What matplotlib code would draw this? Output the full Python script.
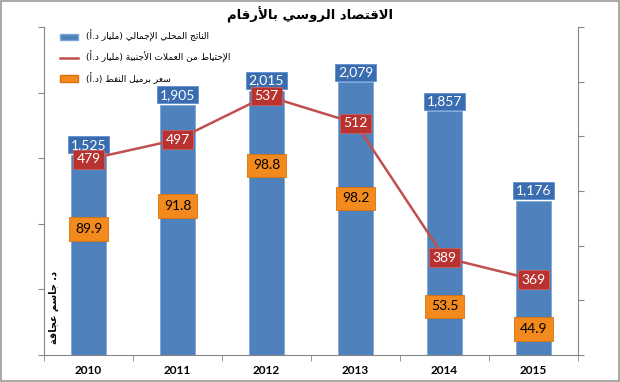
import matplotlib
matplotlib.use("Agg")
import matplotlib.pyplot as plt
from matplotlib.patches import Patch, Rectangle
from matplotlib.lines import Line2D
import numpy as np

# ---------------- data ----------------
years = ["2010", "2011", "2012", "2013", "2014", "2015"]
gdp = [1525, 1905, 2015, 2079, 1857, 1176]           # billion USD
reserves = [479, 497, 537, 512, 389, 369]            # billion USD
oil = [89.9, 91.8, 98.8, 98.2, 53.5, 44.9]           # USD / barrel
oil_label_nudge = [-13, 0, 16, -6.5, 0, 0]           # label offsets (points), layout only

title = "الاقتصاد الروسي بالأرقام"
legend_labels = ["الناتج المحلي الإجمالي (مليار د.أ)",
                 "الإحتياط من العملات الأجنبية (مليار د.أ)",
                 "سعر برميل النفط (د.أ)"]
author = "د. جاسم عجاقة"

# ---------------- minimal Arabic shaping ----------------
TABLE = {0x621: (0xFE80, 1), 0x622: (0xFE81, 2), 0x623: (0xFE83, 2), 0x624: (0xFE85, 2),
         0x625: (0xFE87, 2), 0x626: (0xFE89, 4), 0x627: (0xFE8D, 2), 0x628: (0xFE8F, 4),
         0x629: (0xFE93, 2), 0x62A: (0xFE95, 4), 0x62B: (0xFE99, 4), 0x62C: (0xFE9D, 4),
         0x62D: (0xFEA1, 4), 0x62E: (0xFEA5, 4), 0x62F: (0xFEA9, 2), 0x630: (0xFEAB, 2),
         0x631: (0xFEAD, 2), 0x632: (0xFEAF, 2), 0x633: (0xFEB1, 4), 0x634: (0xFEB5, 4),
         0x635: (0xFEB9, 4), 0x636: (0xFEBD, 4), 0x637: (0xFEC1, 4), 0x638: (0xFEC5, 4),
         0x639: (0xFEC9, 4), 0x63A: (0xFECD, 4), 0x641: (0xFED1, 4), 0x642: (0xFED5, 4),
         0x643: (0xFED9, 4), 0x644: (0xFEDD, 4), 0x645: (0xFEE1, 4), 0x646: (0xFEE5, 4),
         0x647: (0xFEE9, 4), 0x648: (0xFEED, 2), 0x649: (0xFEEF, 2), 0x64A: (0xFEF1, 4)}
LAMALEF = {0x622: 0xFEF5, 0x623: 0xFEF7, 0x625: 0xFEF9, 0x627: 0xFEFB}


def shape(s):
    toks = []
    i = 0
    while i < len(s):
        c = s[i]
        if ord(c) == 0x644 and i + 1 < len(s) and ord(s[i + 1]) in LAMALEF:
            toks.append(("LA", LAMALEF[ord(s[i + 1])]))
            i += 2
        else:
            toks.append(("C", c))
            i += 1

    def dual(t):
        return t is not None and t[0] == "C" and ord(t[1]) in TABLE and TABLE[ord(t[1])][1] == 4

    def joins_prev(t):
        return t is not None and (t[0] == "LA" or (ord(t[1]) in TABLE and ord(t[1]) != 0x621))

    out = []
    for k, t in enumerate(toks):
        prev = toks[k - 1] if k > 0 else None
        nxt = toks[k + 1] if k + 1 < len(toks) else None
        jp = dual(prev) and joins_prev(t)
        if t[0] == "LA":
            out.append(chr(t[1] + (1 if jp else 0)))
            continue
        o = ord(t[1])
        if o not in TABLE:
            out.append(t[1])
            continue
        base, n = TABLE[o]
        jn = n == 4 and joins_prev(nxt)
        if n == 1:
            out.append(chr(base))
        elif jp and jn:
            out.append(chr(base + 3))
        elif jp:
            out.append(chr(base + 1))
        elif jn:
            out.append(chr(base + 2))
        else:
            out.append(chr(base))
    r = "".join(out)[::-1]
    return r.translate(str.maketrans("()", ")("))


# ---------------- figure ----------------
AR = ["DejaVu Sans"]
NUM = ["Lato", "DejaVu Sans"]
LBL = 10

fig = plt.figure(figsize=(6.2, 3.82), dpi=100)
fig.patches.append(Rectangle((0.001, 0.002), 0.997, 0.995, transform=fig.transFigure,
                             fill=False, edgecolor="#9a9a9a", linewidth=1.2))
ax = fig.add_axes([44 / 620, 27 / 382, (578 - 44) / 620, (355 - 27) / 382])
ax2 = ax.twinx()
ax3 = ax.twinx()

x = np.arange(len(years))
bar_c = "#4F81BD"
bars = ax.bar(x, gdp, width=0.4, color=bar_c, edgecolor="#7EA6D8", linewidth=0.6, zorder=2)
ax.set_xlim(-0.5, len(years) - 0.5)
ax.set_ylim(0, 2500)
ax.set_yticks(np.arange(0, 2501, 500))
ax.set_yticklabels([])
ax.set_xticks(x)
ax.set_xticklabels(years, fontweight="bold", fontsize=8.5, family=NUM)
ax.set_xticks(np.arange(-0.5, len(years)), minor=True)
ax.tick_params(axis="x", which="major", length=0, pad=7)
ax.tick_params(axis="x", which="minor", length=4, color="#868686", direction="out")
ax.tick_params(axis="y", length=4, color="#868686", direction="out")
for sp in ["top", "right"]:
    ax.spines[sp].set_visible(False)
for sp in ["left", "bottom"]:
    ax.spines[sp].set_color("#868686")

for xi, v in zip(x, gdp):
    ax.annotate(f"{v:,}", (xi, v), xytext=(0, 3), textcoords="offset points",
                ha="center", va="bottom", color="white", fontsize=LBL, family=NUM, zorder=5,
                bbox=dict(boxstyle="square,pad=0.18", fc="#3A6CB0", ec="#5E8FD0", lw=0.6))

# reserves line (secondary axis)
line_c = "#C0504D"
ln, = ax2.plot(x, reserves, color=line_c, linewidth=1.8, zorder=3)
ax2.set_ylim(300, 600)
ax2.set_yticks(np.arange(300, 601, 50))
ax2.set_yticklabels([])
ax2.tick_params(axis="y", length=4, color="#868686", direction="out")
for sp in ["top", "left", "bottom"]:
    ax2.spines[sp].set_visible(False)
ax2.spines["right"].set_color("#868686")
for xi, v in zip(x, reserves):
    ax2.annotate(f"{v}", (xi, v), xytext=(0, 0), textcoords="offset points",
                 ha="center", va="center", color="white", fontsize=LBL, family=NUM, zorder=6,
                 bbox=dict(boxstyle="square,pad=0.24", fc="#B8322F", ec="#D0605C", lw=0.6))

# oil labels (hidden third axis)
ax3.set_ylim(35, 160)
ax3.axis("off")
orange = "#F28A1E"
for xi, v, dy in zip(x, oil, oil_label_nudge):
    ax3.annotate(f"{v:.1f}", (xi, v), xytext=(0, dy), textcoords="offset points",
                 ha="center", va="center", color="black", fontsize=LBL, family=NUM, zorder=7,
                 bbox=dict(boxstyle="square,pad=0.4", fc=orange, ec="#D9700E", lw=0.6))

handles = [Patch(fc=bar_c, ec="#7EA6D8"),
           Line2D([], [], color=line_c, lw=1.8),
           Patch(fc=orange, ec="#D9700E")]
leg = ax3.legend(handles, [shape(t) for t in legend_labels], loc="upper left",
                 bbox_to_anchor=(0.015, 1.015), frameon=False, handlelength=2.0,
                 handleheight=0.7, labelspacing=0.95, handletextpad=0.9,
                 prop=dict(family=AR, size=6.5))

fig.text(0.5, 0.962, shape(title), ha="center", va="center", fontsize=9.5,
         fontweight="bold", family=AR)
fig.text(54 / 620, 1 - 308 / 382, shape(author), ha="center", va="center", rotation=90,
         fontsize=7, fontweight="bold", family=AR)

fig.savefig("out.png", dpi=100)
